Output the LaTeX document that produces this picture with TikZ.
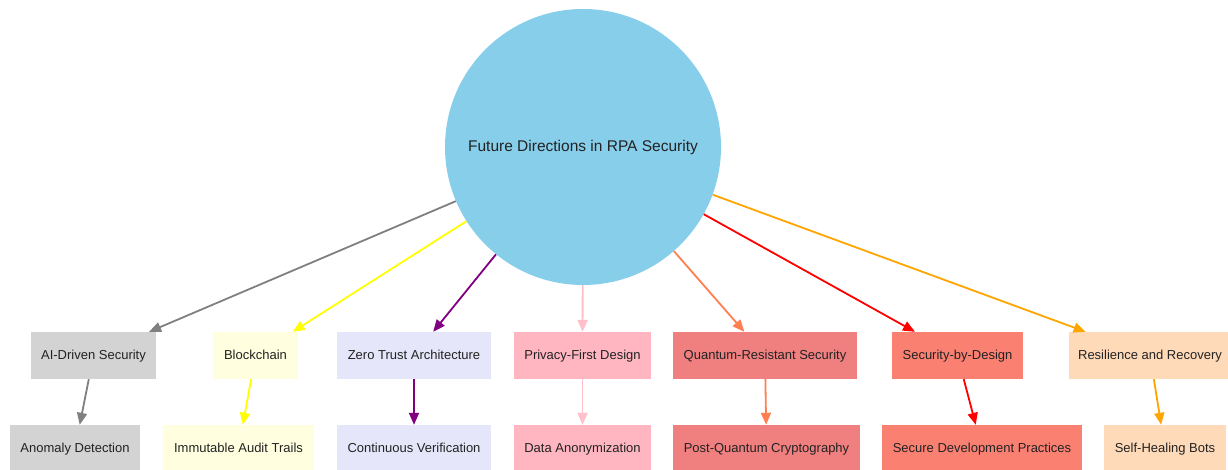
\documentclass[tikz,border=0pt]{standalone}
\usepackage{fontspec}
\setmainfont{Liberation Sans}
\usetikzlibrary{arrows.meta}
\definecolor{cSky}{HTML}{87CEEB}
\definecolor{cLGray}{HTML}{D3D3D3}
\definecolor{cLYellow}{HTML}{FFFFE0}
\definecolor{cLavender}{HTML}{E6E6FA}
\definecolor{cLPink}{HTML}{FFB6C1}
\definecolor{cLCoral}{HTML}{F08080}
\definecolor{cSalmon}{HTML}{FA8072}
\definecolor{cPeach}{HTML}{FFDAB9}
\definecolor{eGray}{HTML}{808080}
\definecolor{eYellow}{HTML}{FFFF00}
\definecolor{ePurple}{HTML}{800080}
\definecolor{ePink}{HTML}{FFC0CB}
\definecolor{eCoral}{HTML}{FF7F50}
\definecolor{eRed}{HTML}{FF0000}
\definecolor{eOrange}{HTML}{FFA500}
\definecolor{txt}{HTML}{222222}
\begin{document}
\begin{tikzpicture}[x=1pt,y=-1pt,
  every node/.style={font=\fontsize{13}{15}\selectfont, text=txt},
  box/.style={rectangle, draw=none, minimum height=47pt, inner sep=0pt, text height=9.5pt, text depth=2.5pt},
  hub/.style={circle, fill=cSky, draw=none, minimum size=276pt, inner sep=0pt, font=\fontsize{15.5}{18}\selectfont},
  link/.style={line width=1.8pt, -{Triangle[length=12pt,width=10pt]}}
]
\useasboundingbox (0,0) rectangle (1228,470);
\fill[white] (0,0) rectangle (1228,470);

\node[hub] (c) at (583,147) {Future Directions in RPA Security};

\node[box, fill=cLGray, minimum width=125pt] (ai) at (93.5,355.5) {AI-Driven Security};
\node[box, fill=cLYellow, minimum width=85pt] (bc) at (255.5,355.5) {Blockchain};
\node[box, fill=cLavender, minimum width=154pt] (zt) at (414,355.5) {Zero Trust Architecture};
\node[box, fill=cLPink, minimum width=137pt] (pf) at (582.5,355.5) {Privacy-First Design};
\node[box, fill=cLCoral, minimum width=184pt] (qr) at (765,355.5) {Quantum-Resistant Security};
\node[box, fill=cSalmon, minimum width=131pt] (sd) at (957.5,355.5) {Security-by-Design};
\node[box, fill=cPeach, minimum width=162pt] (rr) at (1150,355.5) {Resilience and Recovery};

\node[box, fill=cLGray, minimum width=130pt] (an) at (75,448.5) {Anomaly Detection};
\node[box, fill=cLYellow, minimum width=151pt] (ia) at (238.5,448.5) {Immutable Audit Trails};
\node[box, fill=cLavender, minimum width=154pt] (cv) at (414,448.5) {Continuous Verification};
\node[box, fill=cLPink, minimum width=137pt] (da) at (582.5,448.5) {Data Anonymization};
\node[box, fill=cLCoral, minimum width=187pt] (pq) at (766.5,448.5) {Post-Quantum Cryptography};
\node[box, fill=cSalmon, minimum width=200pt] (sp) at (982,448.5) {Secure Development Practices};
\node[box, fill=cPeach, minimum width=122pt] (sh) at (1165,448.5) {Self-Healing Bots};

\draw[link, eGray] (c) -- (ai);
\draw[link, eYellow] (c) -- (bc);
\draw[link, ePurple] (c) -- (zt);
\draw[link, ePink] (c) -- (pf);
\draw[link, eCoral] (c) -- (qr);
\draw[link, eRed] (c) -- (sd);
\draw[link, eOrange] (c) -- (rr);

\draw[link, eGray] (ai) -- (an);
\draw[link, eYellow] (bc) -- (ia);
\draw[link, ePurple] (zt) -- (cv);
\draw[link, ePink] (pf) -- (da);
\draw[link, eCoral] (qr) -- (pq);
\draw[link, eRed] (sd) -- (sp);
\draw[link, eOrange] (rr) -- (sh);
\end{tikzpicture}
\end{document}
